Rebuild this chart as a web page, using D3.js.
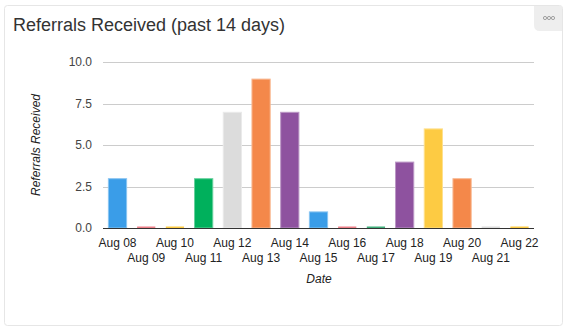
<!DOCTYPE html>
<html><head><meta charset="utf-8">
<script src="https://cdn.jsdelivr.net/npm/d3@7"></script>
<style>
body{margin:0;background:#fff;font-family:"Liberation Sans",Arial,sans-serif;}
</style></head><body>
<svg id="c" width="567" height="330"></svg>
<script>
const categories = ["Aug 08","Aug 09","Aug 10","Aug 11","Aug 12","Aug 13","Aug 14","Aug 15","Aug 16","Aug 17","Aug 18","Aug 19","Aug 20","Aug 21","Aug 22"];
const values = [3,0,0,3,7,9,7,1,0,0,4,6,3,0,0];
const colors = ["#3a9de8","#ee7f88","#fdcb43","#00b05c","#dcdcdc","#f4884a","#8e529f","#3a9de8","#ee7f88","#3fae7a","#8e529f","#fdcb43","#f4884a","#dcdcdc","#fdcb43"];
const yTicks = [0,2.5,5,7.5,10];

const svg = d3.select("#c");
// card
svg.append("rect").attr("x",4.5).attr("y",5.5).attr("width",558).attr("height",320).attr("rx",3)
  .attr("fill","#fff").attr("stroke","#e6e6e6");
// menu button
svg.append("path").attr("d","M534,6 H562 V31 H540 Q534,31 534,25 Z").attr("fill","#eeeeee");
[545,549,553].forEach(cx=>svg.append("circle").attr("cx",cx).attr("cy",18).attr("r",1.6).attr("fill","none").attr("stroke","#999").attr("stroke-width",0.9));

svg.append("text").attr("x",13).attr("y",31).attr("font-size",18).attr("fill","#333").text("Referrals Received (past 14 days)");

const x = d3.scaleBand().domain(categories).range([103,534]).paddingInner(0.33).paddingOuter(0.17);
const y = d3.scaleLinear().domain([0,10]).range([228,62]);

// grid
svg.append("g").selectAll("line").data(yTicks.filter(d=>d>0)).join("line")
  .attr("x1",103).attr("x2",534).attr("y1",d=>Math.round(y(d))+0.5).attr("y2",d=>Math.round(y(d))+0.5)
  .attr("stroke","#cccccc");
// y labels
const yAxis = d3.axisLeft(y).tickValues(yTicks).tickFormat(d3.format(".1f")).tickSize(0).tickPadding(0);
const gy = svg.append("g").attr("transform","translate(92,0)").call(yAxis);
gy.select(".domain").remove();
gy.selectAll("text").attr("font-size",12).attr("fill","#444").attr("font-family","Liberation Sans, Arial, sans-serif");

// bars
const data = categories.map((c,i)=>({c,v:values[i],col:colors[i]}));
svg.append("g").selectAll("rect").data(data).join("rect")
  .attr("x",d=>x(d.c)+0.5)
  .attr("width",x.bandwidth()-1)
  .attr("y",d=>d.v>0?y(d.v)+0.5:y(0)-1.5)
  .attr("height",d=>d.v>0?y(0)-y(d.v)-0.5:1.5)
  .attr("fill",d=>d.col)
  .attr("stroke",d=>d3.interpolateRgb(d.col,"#fff")(0.4))
  .attr("stroke-width",d=>d.v>0?1:0);

// x axis
const xAxis = d3.axisBottom(x).tickSize(0).tickPadding(0);
const gx = svg.append("g").attr("transform","translate(0,228)").call(xAxis);
gx.select(".domain").remove();
svg.append("line").attr("x1",103).attr("x2",534).attr("y1",228.5).attr("y2",228.5).attr("stroke","#333").attr("stroke-width",1);
gx.selectAll("text").attr("font-size",12).attr("fill","#222").attr("font-family","Liberation Sans, Arial, sans-serif")
  .attr("dy",null).attr("y",(d,i)=>i%2===0?19:34);

svg.append("text").attr("x",319).attr("y",283).attr("text-anchor","middle").attr("font-size",12).attr("font-style","italic").attr("fill","#222").text("Date");
svg.append("text").attr("transform","translate(40,145) rotate(-90)").attr("text-anchor","middle").attr("font-size",12).attr("font-style","italic").attr("fill","#222").text("Referrals Received");
</script></body></html>
